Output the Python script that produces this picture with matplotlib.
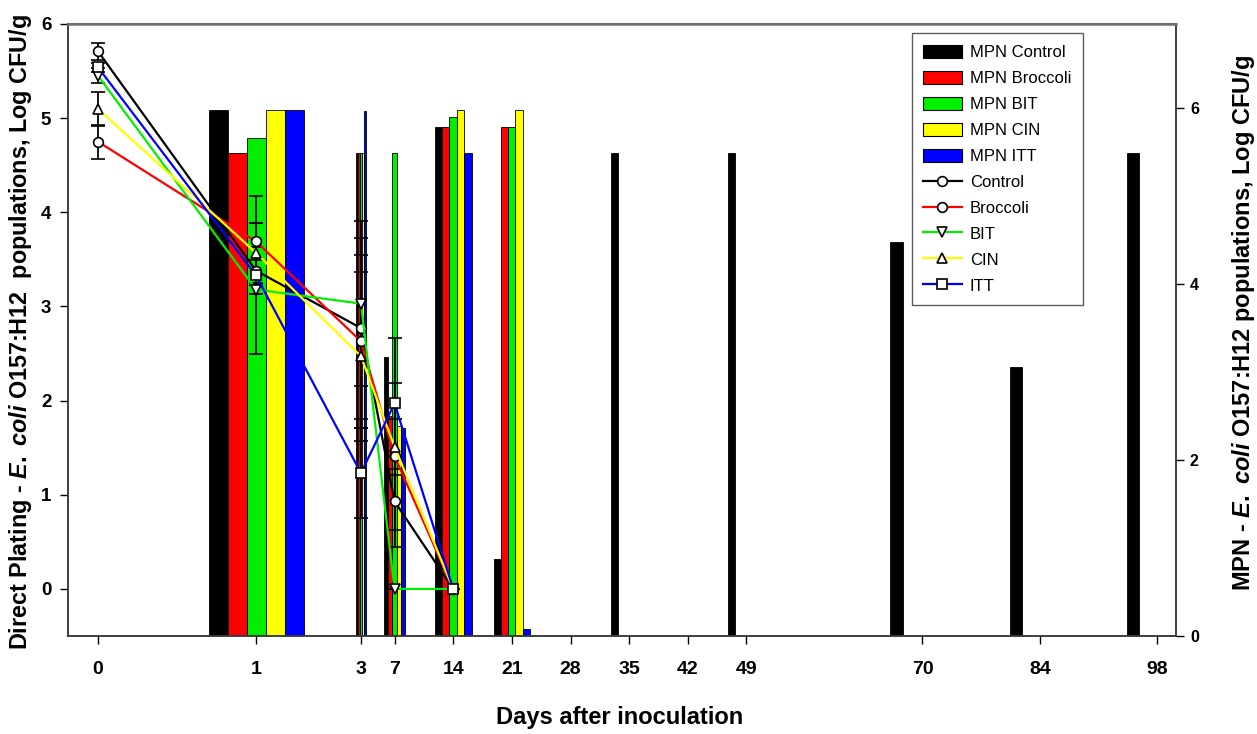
import numpy as np
import matplotlib
matplotlib.use("Agg")
import matplotlib.pyplot as plt
from matplotlib.patches import Patch
from matplotlib.lines import Line2D
from matplotlib import font_manager

# ---------------- data ----------------
# Direct plating (left axis), mean and error
dp_days = [0, 1, 3, 7, 14]
dp_control = [5.71, 3.38, 2.77, 0.93, 0.0]
dp_broccoli = [4.75, 3.69, 2.63, 1.41, 0.0]
dp_bit = [5.45, 3.18, 3.03, 0.0, 0.0]
dp_cin = [5.10, 3.57, 2.47, 1.51, 0.0]
dp_itt = [5.54, 3.33, 1.23, 1.97, 0.0]
err_control = [0.09, 0.25, 0.96, 0.48, 0.0]
err_broccoli = [0.18, 0.20, 0.92, 0.78, 0.0]
err_bit = [0.08, 0.05, 0.88, 0.0, 0.0]
err_cin = [0.18, 0.32, 0.90, 0.30, 0.0]
err_itt = [0.05, 0.84, 0.48, 0.70, 0.0]

# MPN (right axis)
mpn_days = [1, 3, 7, 14, 21, 35, 49, 70, 84, 98]
mpn_control = [5.97, 5.49, 3.17, 5.78, 0.88, 5.49, 5.49, 4.47, 3.06, 5.49]
mpn_broccoli = [5.48, 5.49, 2.50, 5.78, 5.78, 0, 0, 0, 0, 0]
mpn_bit = [5.66, 5.49, 5.49, 5.89, 5.78, 0, 0, 0, 0, 0]
mpn_cin = [5.97, 5.49, 2.38, 5.97, 5.97, 0, 0, 0, 0, 0]
mpn_itt = [5.97, 5.96, 2.36, 5.49, 0.08, 0, 0, 0, 0, 0]

tick_days = [0, 1, 3, 7, 14, 21, 28, 35, 42, 49, 70, 84, 98]
tick_labels = ["0", "1", "3", "7", "14", "21", "28", "35", "42", "49", "70", "84", "98"]

line_names = ["Control", "Broccoli", "BIT", "CIN", "ITT"]
bar_names = ["MPN Control", "MPN Broccoli", "MPN BIT", "MPN CIN", "MPN ITT"]

# ---------------- styles ----------------
colors = ["#000000", "#ff0000", "#00ee00", "#ffff00", "#0000ff"]
markers = ["o", "o", "v", "^", "s"]
# bar width (display units of the x scale) per day group
bar_w = {1: 19, 3: 2.1, 7: 4.2, 14: 7.4, 21: 7.2, 35: 7.4, 49: 7.4, 70: 13, 84: 12, 98: 12}

# piecewise linear x scale (expanded early days)
BP_D = np.array([-1.0, 0.0, 1.0, 3.0, 200.0])
BP_P = np.array([-60.0, 98.0, 256.0, 361.0, 361.0 + 197 * 8.38])


def fwd(d):
    return np.interp(d, BP_D, BP_P)


def inv(p):
    return np.interp(p, BP_P, BP_D)


names = {f.name for f in font_manager.fontManager.ttflist}
narrow = "Liberation Sans Narrow" if "Liberation Sans Narrow" in names else "Liberation Sans"

plt.rcParams['font.family'] = ['Liberation Sans', 'DejaVu Sans']
plt.rcParams['mathtext.fontset'] = 'custom'
plt.rcParams['mathtext.rm'] = 'Liberation Sans:bold'
plt.rcParams['mathtext.it'] = 'Liberation Sans:italic:bold'
plt.rcParams['mathtext.bf'] = 'Liberation Sans:bold'

fig = plt.figure(figsize=(12.57, 7.34), dpi=100)
ax = fig.add_axes([68 / 1257, 98 / 734, 1108 / 1257, 612 / 734])
ax.set_xscale('function', functions=(fwd, inv))
ax.set_xlim(float(inv(68)), float(inv(1176)))
ax2 = ax.twinx()

# ---------------- bars (right axis) ----------------
mpn_series = [mpn_control, mpn_broccoli, mpn_bit, mpn_cin, mpn_itt]
for k, (vals, col) in enumerate(zip(mpn_series, colors)):
    lefts, widths, heights = [], [], []
    for d, v in zip(mpn_days, vals):
        if v <= 0:
            continue
        w = bar_w[d]
        c = fwd(d) + (k - 2) * w
        l = inv(c - w / 2)
        r = inv(c + w / 2)
        lefts.append(l)
        widths.append(r - l)
        heights.append(v)
    ax2.bar(lefts, heights, width=widths, align='edge', color=col,
            edgecolor='black', linewidth=0.6)

ax2.set_ylim(0, 6.95)
ax2.set_yticks([0, 2, 4, 6])
ax2.tick_params(axis='y', direction='out', length=6, width=1, pad=4,
                labelsize=11.5)
for t in ax2.get_yticklabels():
    t.set_fontweight('bold')
ax2.set_ylabel(r"MPN - $E.\ coli$ O157:H12 populations, Log CFU/g",
               fontsize=17, fontweight='bold')
ax2.yaxis.set_label_coords(1.049, 0.511)

# ---------------- lines (left axis) ----------------
dp_series = [dp_control, dp_broccoli, dp_bit, dp_cin, dp_itt]
err_series = [err_control, err_broccoli, err_bit, err_cin, err_itt]
for vals, errs, col, mk in zip(dp_series, err_series, colors, markers):
    ax.errorbar(dp_days, vals, yerr=errs, fmt='-', color=col, lw=1.6,
                marker=mk, ms=7, mfc='white', mec='black', mew=1.2,
                ecolor='black', elinewidth=1.3, capsize=5, capthick=1.3)

ax.set_ylim(-0.5, 6)
ax.set_yticks(range(0, 7))
ax.set_xticks(tick_days)
ax.set_xticklabels(tick_labels)
ax.tick_params(axis='y', direction='out', length=6, width=1, pad=6, labelsize=13.5)
ax.tick_params(axis='x', direction='out', length=6, width=1, pad=12, labelsize=14)
for t in ax.get_yticklabels():
    t.set_fontweight('bold')
for t in ax.get_xticklabels():
    t.set_fontweight('bold')
    t.set_family([narrow, 'Liberation Sans'])
ax.minorticks_off()

ax.set_ylabel(r"Direct Plating - $E.\ coli$ O157:H12  populations, Log CFU/g",
              fontsize=16.8, fontweight='bold')
ax.yaxis.set_label_coords(-0.0307, 0.496)
ax.set_xlabel("Days after inoculation", fontsize=17, fontweight='bold',
              family=[narrow, 'Liberation Sans'])
ax.xaxis.set_label_coords(0.498, -0.115)

ax.set_zorder(ax2.get_zorder() + 1)
ax.patch.set_visible(False)
for a in (ax, ax2):
    for s in a.spines.values():
        s.set_color('#3a3a3a')
        s.set_linewidth(1.1)
ax.spines['top'].set_color('#707070')
ax.spines['top'].set_linewidth(1.8)

# ---------------- legend ----------------
handles = [Patch(facecolor=c, edgecolor='black', linewidth=0.8) for c in colors]
handles += [Line2D([], [], color=c, lw=1.6, marker=m, ms=7, mfc='white',
                   mec='black', mew=1.2) for c, m in zip(colors, markers)]
labels = bar_names + line_names
leg = ax.legend(handles, labels, loc='upper right', bbox_to_anchor=(0.916, 0.985),
                fontsize=12, frameon=True, fancybox=False, shadow=False,
                handlelength=2.3, handleheight=0.85, handletextpad=0.5,
                labelspacing=0.63, borderpad=0.7, borderaxespad=0)
leg.get_frame().set_edgecolor('#333333')
leg.get_frame().set_linewidth(1.0)

fig.savefig("out.png", dpi=100, facecolor='white')
